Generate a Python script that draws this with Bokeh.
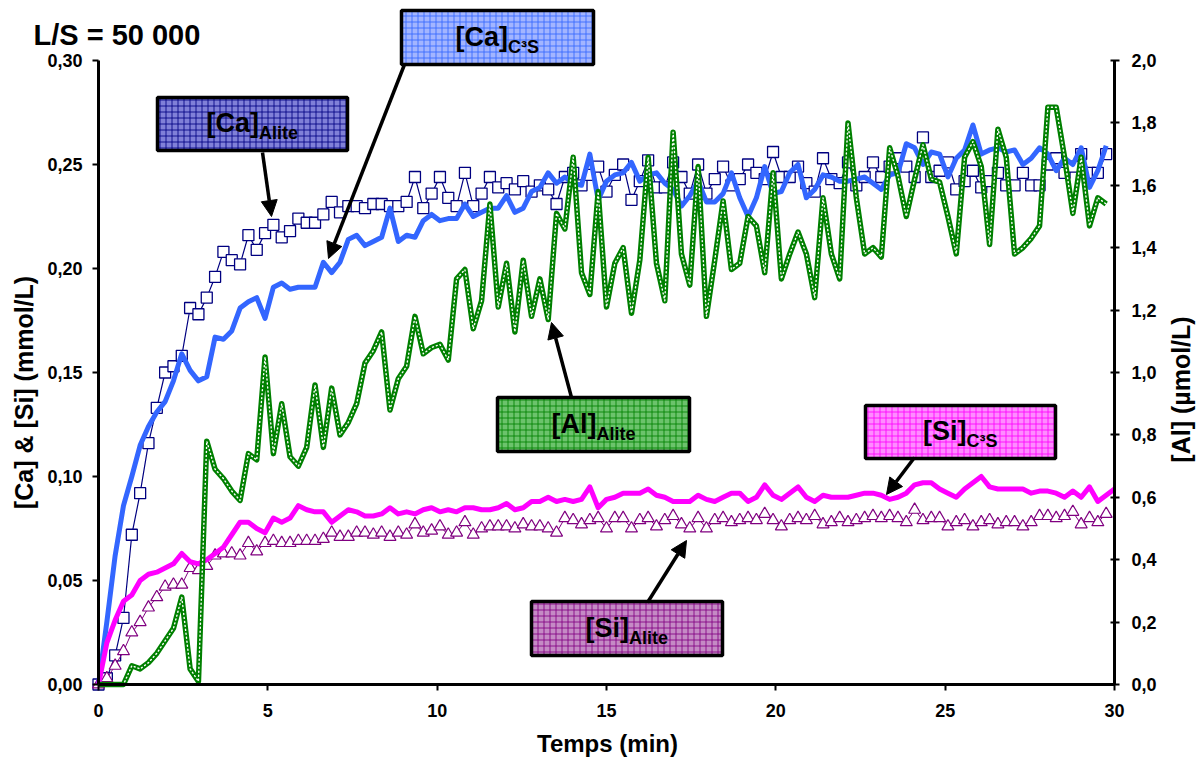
import math
from bokeh.plotting import figure
from bokeh.models import (Range1d, LinearAxis, FixedTicker, CustomJSTickFormatter,
                          Arrow, NormalHead)
from bokeh.core.properties import value
from bokeh.embed import file_html
from bokeh.resources import INLINE

# ---------------- data ----------------
t_step = 0.2459  # sampling interval (min)

ca_alite = [0.000, 0.003, 0.014, 0.032, 0.072, 0.092, 0.116, 0.133, 0.150, 0.153,
            0.158, 0.181, 0.178, 0.186, 0.196, 0.208, 0.204, 0.202, 0.216, 0.209,
            0.217, 0.221, 0.215, 0.218, 0.224, 0.222, 0.222, 0.226, 0.232, 0.227,
            0.230, 0.230, 0.229, 0.231, 0.231, 0.230, 0.230, 0.232, 0.244, 0.229,
            0.236, 0.244, 0.234, 0.230, 0.246, 0.230, 0.236, 0.244, 0.239, 0.241,
            0.238, 0.242, 0.237, 0.240, 0.238, 0.231, 0.244, 0.246, 0.240, 0.245,
            0.249, 0.237, 0.245, 0.250, 0.233, 0.242, 0.252, 0.239, 0.239, 0.251,
            0.244, 0.236, 0.250, 0.236, 0.243, 0.249, 0.240, 0.243, 0.250, 0.246,
            0.243, 0.256, 0.244, 0.244, 0.249, 0.241, 0.237, 0.253, 0.243, 0.241,
            0.251, 0.240, 0.244, 0.251, 0.244, 0.249, 0.253, 0.249, 0.244, 0.263,
            0.244, 0.247, 0.251, 0.238, 0.242, 0.247, 0.239, 0.242, 0.246, 0.240,
            0.240, 0.246, 0.240, 0.240, 0.250, 0.253, 0.246, 0.249, 0.255, 0.246,
            0.246, 0.255]

ca_c3s = [0.000, 0.030, 0.062, 0.086, 0.100, 0.115, 0.124, 0.131, 0.136, 0.146,
          0.159, 0.151, 0.146, 0.148, 0.167, 0.166, 0.170, 0.181, 0.184, 0.186,
          0.176, 0.191, 0.193, 0.190, 0.191, 0.191, 0.191, 0.203, 0.198, 0.203,
          0.214, 0.216, 0.211, 0.213, 0.215, 0.229, 0.213, 0.216, 0.215, 0.223,
          0.226, 0.223, 0.224, 0.224, 0.231, 0.225, 0.227, 0.229, 0.229, 0.235,
          0.227, 0.229, 0.237, 0.239, 0.246, 0.241, 0.244, 0.241, 0.240, 0.255,
          0.233, 0.242, 0.245, 0.246, 0.251, 0.242, 0.245, 0.246, 0.241, 0.238,
          0.230, 0.235, 0.242, 0.232, 0.232, 0.236, 0.246, 0.234, 0.225, 0.234,
          0.249, 0.236, 0.237, 0.246, 0.250, 0.234, 0.238, 0.245, 0.244, 0.242,
          0.242, 0.243, 0.244, 0.241, 0.238, 0.245, 0.246, 0.260, 0.258, 0.250,
          0.256, 0.255, 0.244, 0.253, 0.257, 0.269, 0.255, 0.257, 0.258, 0.256,
          0.257, 0.250, 0.253, 0.258, 0.255, 0.247, 0.253, 0.250, 0.258, 0.239,
          0.247, 0.259]

si_c3s = [0.000, 0.020, 0.031, 0.040, 0.043, 0.050, 0.053, 0.054, 0.056, 0.058,
          0.063, 0.059, 0.058, 0.060, 0.063, 0.066, 0.072, 0.078, 0.078, 0.075,
          0.073, 0.080, 0.078, 0.080, 0.086, 0.084, 0.083, 0.083, 0.078, 0.081,
          0.084, 0.083, 0.081, 0.081, 0.082, 0.085, 0.082, 0.083, 0.082, 0.084,
          0.085, 0.083, 0.084, 0.083, 0.085, 0.085, 0.084, 0.084, 0.085, 0.087,
          0.084, 0.085, 0.088, 0.088, 0.090, 0.088, 0.089, 0.088, 0.089, 0.095,
          0.085, 0.089, 0.090, 0.092, 0.092, 0.092, 0.094, 0.091, 0.090, 0.088,
          0.088, 0.088, 0.091, 0.089, 0.088, 0.090, 0.092, 0.092, 0.088, 0.090,
          0.096, 0.091, 0.089, 0.092, 0.095, 0.090, 0.088, 0.091, 0.090, 0.090,
          0.090, 0.091, 0.092, 0.092, 0.091, 0.089, 0.090, 0.092, 0.096, 0.097,
          0.097, 0.094, 0.092, 0.090, 0.094, 0.097, 0.100, 0.095, 0.094, 0.094,
          0.094, 0.094, 0.092, 0.093, 0.093, 0.092, 0.090, 0.093, 0.090, 0.095,
          0.088, 0.091, 0.094]

si_alite = [0.000, 0.003, 0.009, 0.016, 0.025, 0.030, 0.037, 0.042, 0.047, 0.048,
            0.048, 0.056, 0.055, 0.057, 0.062, 0.063, 0.063, 0.062, 0.068, 0.064,
            0.068, 0.069, 0.068, 0.068, 0.069, 0.069, 0.069, 0.070, 0.073, 0.071,
            0.071, 0.073, 0.073, 0.072, 0.073, 0.071, 0.073, 0.072, 0.077, 0.073,
            0.074, 0.076, 0.072, 0.073, 0.078, 0.072, 0.075, 0.076, 0.076, 0.076,
            0.075, 0.077, 0.076, 0.076, 0.075, 0.073, 0.080, 0.079, 0.077, 0.079,
            0.080, 0.075, 0.080, 0.080, 0.075, 0.079, 0.080, 0.076, 0.079, 0.081,
            0.077, 0.075, 0.080, 0.075, 0.079, 0.080, 0.078, 0.079, 0.080, 0.079,
            0.082, 0.079, 0.076, 0.079, 0.080, 0.079, 0.081, 0.077, 0.078, 0.080,
            0.078, 0.079, 0.080, 0.081, 0.080, 0.081, 0.080, 0.078, 0.084, 0.079,
            0.080, 0.080, 0.076, 0.078, 0.079, 0.076, 0.078, 0.079, 0.077, 0.078,
            0.078, 0.076, 0.078, 0.081, 0.081, 0.080, 0.081, 0.083, 0.077, 0.080,
            0.078, 0.082]

al_alite = [0.00, 0.00, 0.00, 0.00, 0.06, 0.05, 0.07, 0.10, 0.14, 0.18,
            0.28, 0.05, 0.01, 0.78, 0.69, 0.66, 0.62, 0.59, 0.74, 0.72,
            1.05, 0.74, 0.90, 0.73, 0.70, 0.76, 0.96, 0.76, 0.95, 0.80,
            0.84, 0.90, 1.03, 1.07, 1.13, 0.88, 0.98, 1.02, 1.18, 1.06,
            1.08, 1.09, 1.04, 1.30, 1.33, 1.14, 1.23, 1.54, 1.21, 1.35,
            1.13, 1.36, 1.18, 1.30, 1.17, 1.51, 1.46, 1.69, 1.32, 1.25,
            1.58, 1.21, 1.35, 1.40, 1.19, 1.36, 1.69, 1.35, 1.23, 1.77,
            1.38, 1.28, 1.66, 1.18, 1.36, 1.55, 1.33, 1.35, 1.50, 1.47,
            1.32, 1.64, 1.30, 1.38, 1.45, 1.38, 1.24, 1.56, 1.38, 1.30,
            1.80, 1.56, 1.38, 1.40, 1.37, 1.72, 1.63, 1.50, 1.62, 1.73,
            1.62, 1.61, 1.50, 1.38, 1.69, 1.74, 1.66, 1.41, 1.78, 1.69,
            1.38, 1.40, 1.43, 1.47, 1.85, 1.85, 1.69, 1.51, 1.69, 1.47,
            1.56, 1.54]

x_ticks = [0, 5, 10, 15, 20, 25, 30]
x_labels = ["0", "5", "10", "15", "20", "25", "30"]
yl_ticks = [0.0, 0.05, 0.10, 0.15, 0.20, 0.25, 0.30]
yl_labels = ["0,00", "0,05", "0,10", "0,15", "0,20", "0,25", "0,30"]
yr_ticks = [0.0, 0.2, 0.4, 0.6, 0.8, 1.0, 1.2, 1.4, 1.6, 1.8, 2.0]
yr_labels = ["0,0", "0,2", "0,4", "0,6", "0,8", "1,0", "1,2", "1,4", "1,6", "1,8", "2,0"]

title_text = "L/S = 50 000"
x_title = "Temps (min)"
yl_title = "[Ca] & [Si] (mmol/L)"
yr_title = "[Al] (µmol/L)"

def times(n):
    return [i * t_step for i in range(n)]

# ---------------- layout (page pixels -> data) ----------------
FONT = "Liberation Sans"
W, H = 1200, 758
X0, X30 = 98, 1114          # pixel columns of t=0 and t=30
Y0 = 684                    # pixel row of the zero line
PX_PER_MIN = (X30 - X0) / 30.0
PX_PER_L = 2080.0           # left axis: 0.30 over 624 px
PX_PER_R = 312.0            # right axis: 2.0 over 624 px

def T(px):
    return (px - X0) / PX_PER_MIN

def V(py):
    return (Y0 - py) / PX_PER_L

p = figure(width=W, height=H, output_backend="svg", toolbar_location=None,
           x_range=Range1d(T(0), T(W)), y_range=Range1d(V(H), V(0)),
           min_border_left=0, min_border_right=0, min_border_top=0,
           min_border_bottom=0, x_axis_location=None, y_axis_location=None)
p.extra_y_ranges = {"right": Range1d((Y0 - H) / PX_PER_R, Y0 / PX_PER_R)}
p.outline_line_color = None
p.xgrid.visible = False
p.ygrid.visible = False
p.background_fill_color = "white"
p.border_fill_color = "white"

def fmt(tk, lb):
    return CustomJSTickFormatter(args=dict(tk=tk, lb=lb), code="""
        const i = tk.findIndex(v => Math.abs(v - tick) < 1e-9);
        return i >= 0 ? lb[i] : '';
    """)

def style_axis(ax, tin, tout, standoff):
    ax.axis_line_width = 3
    ax.axis_line_color = "black"
    ax.major_tick_line_width = 2
    ax.major_tick_in = tin
    ax.major_tick_out = tout
    ax.minor_tick_line_color = None
    ax.major_label_standoff = standoff
    ax.major_label_text_font = FONT
    ax.major_label_text_font_style = "bold"
    ax.major_label_text_font_size = "18px"
    ax.major_label_text_color = "black"

xa = LinearAxis(ticker=FixedTicker(ticks=x_ticks), formatter=fmt(x_ticks, x_labels),
                bounds=(0, 30), fixed_location=0)
style_axis(xa, 0, 6, 13)
p.add_layout(xa, "below")

yla = LinearAxis(ticker=FixedTicker(ticks=yl_ticks), formatter=fmt(yl_ticks, yl_labels),
                 bounds=(0, 0.30), fixed_location=0)
style_axis(yla, 0, 6, 10)
p.add_layout(yla, "left")

yra = LinearAxis(y_range_name="right", ticker=FixedTicker(ticks=yr_ticks),
                 formatter=fmt(yr_ticks, yr_labels), bounds=(0, 2.0), fixed_location=30)
style_axis(yra, 4, 5, 12)
p.add_layout(yra, "right")

# ---------------- series ----------------
p.line(times(len(ca_alite)), ca_alite, line_color="#000080", line_width=1.2)
p.scatter(times(len(ca_alite)), ca_alite, marker="square", size=11,
          line_color="#000080", line_width=1.3, fill_color="white")
p.line(times(len(si_alite)), si_alite, line_color="#800080", line_width=1.0)
p.scatter(times(len(si_alite)), si_alite, marker="triangle", size=12,
          line_color="#800080", line_width=1.2, fill_color="white")
p.line(times(len(ca_c3s)), ca_c3s, line_color="#3366FF", line_width=5, line_join="round")
p.line(times(len(si_c3s)), si_c3s, line_color="#FF00FF", line_width=5, line_join="round")
p.line(times(len(al_alite)), al_alite, y_range_name="right", line_color="#008000",
       line_width=5.5, line_join="round")
p.line(times(len(al_alite)), al_alite, y_range_name="right", line_color="white",
       line_width=1.4, line_dash="1 3", line_cap="round", line_join="round")

# ---------------- callout boxes ----------------
boxes = [
    ("[Ca]", "Alite", (157, 97, 347, 150), "#8080d8", "#000080", 6.5),
    ("[Ca]", "C³S", (401, 10, 593, 64), "#a3b5ff", "#3366ff", 10.5),
    ("[Al]", "Alite", (497, 397, 689, 451), "#6cc36c", "#008000", 3.0),
    ("[Si]", "C³S", (865, 405, 1055, 458), "#ff8cff", "#ff00ff", 6.0),
    ("[Si]", "Alite", (531, 601, 722, 655), "#c58ac5", "#800080", 2.0),
]
for main, sub, (l, t, r, b), fc, hc, j in boxes:
    p.quad(left=[T(l)], right=[T(r)], top=[V(t)], bottom=[V(b)],
           fill_color=fc, hatch_pattern="+", hatch_color=hc, hatch_scale=6,
           hatch_weight=1, hatch_alpha=0.85, line_color="black", line_width=3.5)
    cx = (l + r) / 2
    cy = (t + b) / 2
    p.text(x=[T(cx)], y=[V(cy - 1)], text=[main], x_offset=j,
           text_align="right", text_baseline="middle",
           text_font=value(FONT), text_font_style="bold", text_font_size="27px",
           text_color="black")
    p.text(x=[T(cx)], y=[V(cy + 9)], text=[sub], x_offset=j,
           text_align="left", text_baseline="middle",
           text_font=value(FONT), text_font_style="bold", text_font_size="18px",
           text_color="black")

arrows = [((262, 152), (271, 216)),
          ((404, 64), (328, 258)),
          ((571, 397), (551, 322)),
          ((914, 457), (886, 494)),
          ((647, 602), (686, 540))]
for (x0, y0), (x1, y1) in arrows:
    p.add_layout(Arrow(x_start=T(x0), y_start=V(y0), x_end=T(x1), y_end=V(y1),
                       line_color="black", line_width=3.5,
                       end=NormalHead(size=16, fill_color="black", line_color="black")))

# ---------------- titles ----------------
def title_text_glyph(px, py, txt, size, angle=0.0, align="center"):
    p.text(x=[T(px)], y=[V(py)], text=[txt], angle=angle,
           text_align=align, text_baseline="middle",
           text_font=value(FONT), text_font_style="bold", text_font_size=size,
           text_color="black")

title_text_glyph(33, 34, title_text, "29px", align="left")
title_text_glyph(607, 743, x_title, "24px")
title_text_glyph(23, 392, yl_title, "25px", angle=math.pi / 2)
title_text_glyph(1180, 389, yr_title, "25px", angle=math.pi / 2)

open("out.html", "w").write(file_html(p, INLINE))
